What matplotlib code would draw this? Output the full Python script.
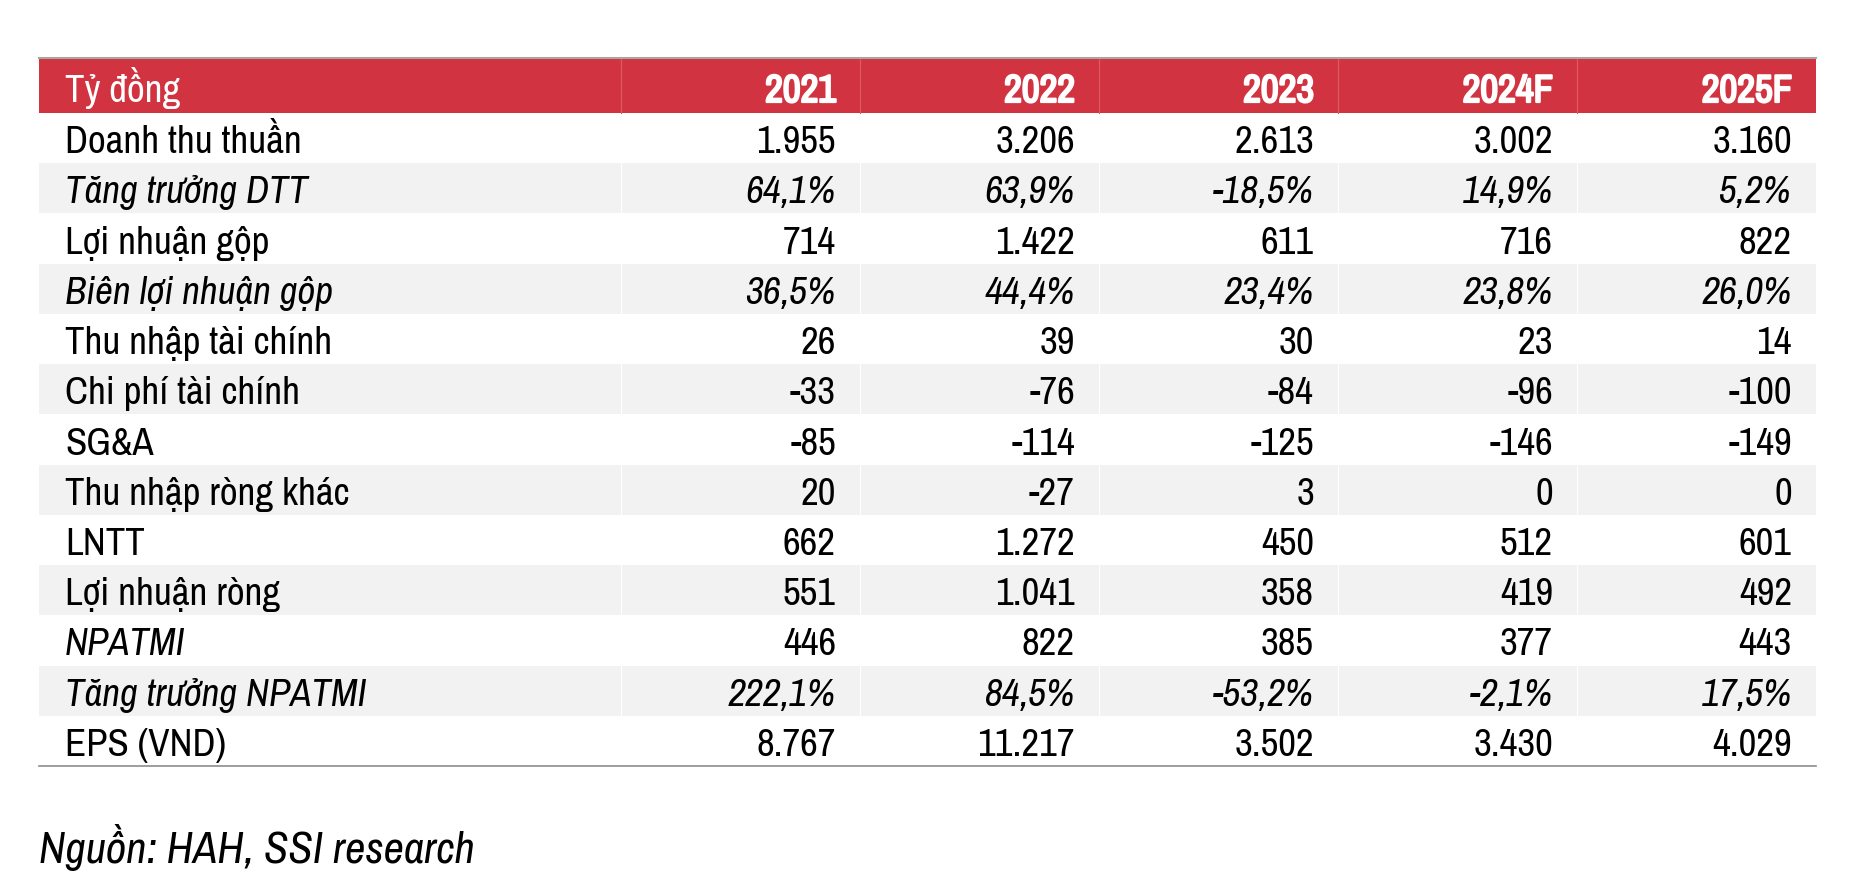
import matplotlib
matplotlib.use("Agg")
import matplotlib.pyplot as plt
from matplotlib.patches import Rectangle
import matplotlib.patheffects as pe

plt.rcParams['font.family'] = ['Archivo Narrow', 'Liberation Sans', 'DejaVu Sans']

unit_label = "Tỷ đồng"
years = ["2021", "2022", "2023", "2024F", "2025F"]
row_labels = ["Doanh thu thuần", "Tăng trưởng DTT", "Lợi nhuận gộp", "Biên lợi nhuận gộp",
              "Thu nhập tài chính", "Chi phí tài chính", "SG&A", "Thu nhập ròng khác",
              "LNTT", "Lợi nhuận ròng", "NPATMI", "Tăng trưởng NPATMI", "EPS (VND)"]
doanh_thu = [1955, 3206, 2613, 3002, 3160]
tang_truong_dtt = [64.1, 63.9, -18.5, 14.9, 5.2]
loi_nhuan_gop = [714, 1422, 611, 716, 822]
bien_ln_gop = [36.5, 44.4, 23.4, 23.8, 26.0]
thu_nhap_tc = [26, 39, 30, 23, 14]
chi_phi_tc = [-33, -76, -84, -96, -100]
sga = [-85, -114, -125, -146, -149]
thu_nhap_khac = [20, -27, 3, 0, 0]
lntt = [662, 1272, 450, 512, 601]
loi_nhuan_rong = [551, 1041, 358, 419, 492]
npatmi = [446, 822, 385, 377, 443]
tang_truong_npatmi = [222.1, 84.5, -53.2, -2.1, 17.5]
eps = [8767, 11217, 3502, 3430, 4029]
source_text = "Nguồn: HAH, SSI research"

rows = [doanh_thu, tang_truong_dtt, loi_nhuan_gop, bien_ln_gop, thu_nhap_tc, chi_phi_tc,
        sga, thu_nhap_khac, lntt, loi_nhuan_rong, npatmi, tang_truong_npatmi, eps]
pct_rows = {1, 3, 11}
italic_label_rows = {1, 3, 10, 11}


def fmt_int(v):
    return f"{v:,}".replace(",", ".")


def fmt_pct(v):
    return f"{v:.1f}%".replace(".", ",")


W, H = 1854, 888
fig = plt.figure(figsize=(W / 100, H / 100), dpi=100)
ax = fig.add_axes([0, 0, 1, 1])
ax.set_xlim(0, W)
ax.set_ylim(H, 0)
ax.axis("off")

left, right = 39, 1816
head_top, head_bot = 58, 113
table_bot = 766
n = len(rows)
rh = (table_bot - head_bot) / n
col_edges = [621 + i * 239 for i in range(6)]
col_edges[-1] = right
red = "#d13440"
fs = 28

# header
ax.add_patch(Rectangle((left, head_top), right - left, head_bot - head_top, color=red, lw=0, zorder=1))
ax.plot([left, right], [head_top, head_top], color="#a6a6a6", lw=1.5, zorder=3)
for xe in col_edges[:-1]:
    ax.plot([xe, xe], [head_top, head_bot], color="#dc5a64", lw=0.8, zorder=2)
hb = head_top + 0.80 * (head_bot - head_top)
ax.text(65, hb, unit_label, color="white", fontsize=fs, va="baseline", ha="left", zorder=4)
bold_fx = [pe.withStroke(linewidth=1.6, foreground="white")]
for j, yname in enumerate(years):
    ax.text(col_edges[j + 1] - 24, hb, yname, color="white", fontsize=fs, fontweight="bold",
            va="baseline", ha="right", zorder=4, path_effects=bold_fx)

# body
for i, (lab, vals) in enumerate(zip(row_labels, rows)):
    top = head_bot + i * rh
    if i % 2 == 1:
        ax.add_patch(Rectangle((left, top), right - left, rh, color="#f2f2f2", lw=0, zorder=1))
        for xe in col_edges[:-1]:
            ax.plot([xe, xe], [top, top + rh], color="white", lw=0.8, zorder=2)
    base = top + 0.80 * rh
    style_l = "italic" if i in italic_label_rows else "normal"
    ax.text(65, base, lab, fontsize=fs, style=style_l, va="baseline", ha="left", color="black", zorder=4)
    for j, v in enumerate(vals):
        if i in pct_rows:
            s, st = fmt_pct(v), "italic"
        else:
            s, st = fmt_int(v), "normal"
        ax.text(col_edges[j + 1] - 24, base, s, fontsize=fs, style=st, va="baseline", ha="right",
                color="black", zorder=4)

ax.plot([left, right], [table_bot, table_bot], color="#8c8c8c", lw=1.2, zorder=3)

ax.text(39, 863, source_text, fontsize=32, style="italic", va="baseline", ha="left", color="black")

fig.savefig("out.png", dpi=100)
